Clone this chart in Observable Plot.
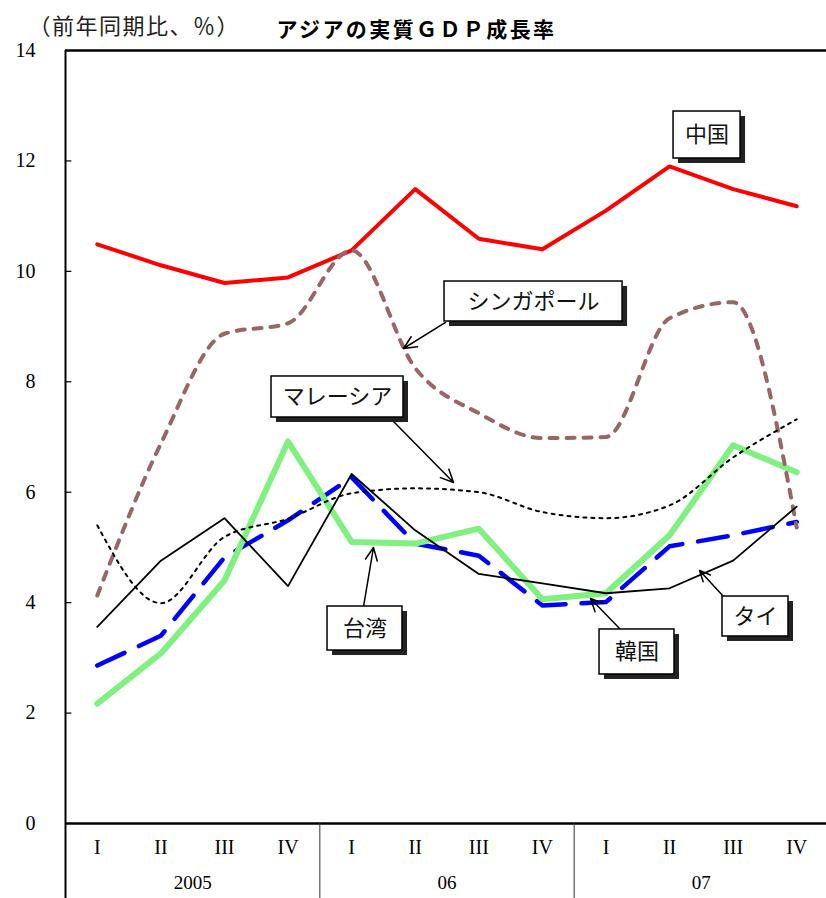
<!DOCTYPE html>
<html>
<head>
<meta charset="utf-8">
<script src="https://cdn.jsdelivr.net/npm/d3@7"></script>
<script src="https://cdn.jsdelivr.net/npm/@observablehq/plot@0.6"></script>
<style>
  body { margin: 0; background: white; }
  #chart { width: 826px; height: 898px; }
  #chart svg g[aria-label="y-axis tick label"] text { font-family: "Liberation Serif", "Times New Roman", "DejaVu Serif", serif; }
</style>
</head>
<body>
<div id="chart"></div>
<script>
// ---- data ----
const quarters = ["I","II","III","IV","I","II","III","IV","I","II","III","IV"];
const years = ["2005", "06", "07"];
const yTicks = [0, 2, 4, 6, 8, 10, 12, 14];

const china     = [10.49, 10.11, 9.79, 9.89, 10.38, 11.49, 10.59, 10.40, 11.10, 11.90, 11.49, 11.18];
const singapore = [4.13, 6.88, 8.87, 9.06, 10.38, 8.25, 7.43, 6.98, 7.00, 9.15, 9.44, 5.36];
const malaysia  = [5.40, 3.99, 5.19, 5.52, 5.98, 6.07, 6.00, 5.64, 5.53, 5.76, 6.63, 7.32];
const thailand  = [3.56, 4.76, 5.53, 4.30, 6.33, 5.31, 4.52, 4.35, 4.17, 4.26, 4.76, 5.74];
const korea     = [2.86, 3.40, 4.82, 5.49, 6.27, 5.07, 4.85, 3.95, 4.01, 5.02, 5.22, 5.46];
const taiwan    = [2.17, 3.08, 4.40, 6.92, 5.10, 5.07, 5.34, 4.06, 4.17, 5.22, 6.85, 6.36];

// annotation boxes & arrows (in data units: quarter index, percent)
const labels = ["中国", "シンガポール", "マレーシア", "台湾", "韓国", "タイ"];
const boxX1 = [9.563, 5.961, 3.240, 4.121, 8.399, 10.333];
const boxX2 = [10.617, 8.761, 5.316, 5.300, 9.578, 11.371];
const boxYTop = [12.895, 9.816, 8.096, 3.930, 3.514, 4.111];
const boxYBot = [12.044, 9.092, 7.353, 3.133, 2.699, 3.387];
const arrowFromX = [null, 5.977, 5.159, 4.687, 8.729, 10.349];
const arrowFromY = [null, 9.074, 7.281, 3.930, 3.514, 4.111];
const arrowToX   = [null, 5.316, 6.103, 4.844, 8.257, 9.972];
const arrowToY   = [null, 8.603, 6.176, 4.999, 4.075, 4.582];

// ---- build tables ----
const series = (vals) => vals.map((v, i) => ({ x: i + 0.5, v }));
const qRows = quarters.map((q, i) => ({ x: i + 0.5, q }));
const yRows = years.map((y, i) => ({ x: i * 4 + 2, y }));
const ann = labels.map((t, i) => ({
  t, x1: boxX1[i], x2: boxX2[i], y1: boxYBot[i], y2: boxYTop[i],
  ax1: arrowFromX[i], ay1: arrowFromY[i], ax2: arrowToX[i], ay2: arrowToY[i]
}));
const arrows = ann.filter(d => d.ax1 != null);

const serif = "Liberation Serif";
const jp = "Noto Sans CJK JP";
const subtitle = "（前年同期比、％）";
const title = "アジアの実質ＧＤＰ成長率";

const chart = Plot.plot({
  width: 826,
  height: 898,
  marginLeft: 65,
  marginRight: 0,
  marginTop: 50,
  marginBottom: 75,
  style: { fontFamily: serif, background: "white", color: "black" },
  x: { type: "linear", domain: [0, 12], range: [65, 828], axis: null },
  y: { domain: [0, 14], range: [823, 50], axis: null },
  marks: [
    // titles
    Plot.text([subtitle], { frameAnchor: "top-left", dx: -37, dy: -32, fontSize: 22, fontFamily: jp, textAnchor: "start", fill: "#222" }),
    Plot.text([title], { frameAnchor: "top-left", dx: 211, dy: -28, fontSize: 21, fontWeight: "bold", fontFamily: jp, textAnchor: "start", fill: "black" }),
    // y axis labels
    Plot.axisY(yTicks, { tickSize: 0, tickPadding: 30, fontSize: 20, fontFamily: serif, tickFormat: d => String(d) }),
    Plot.ruleY(yTicks.filter(d => d > 0 && d < 14), { x1: 0, x2: 0.1, stroke: "black", strokeWidth: 1.2 }),
    // frame lines
    Plot.ruleY([14], { stroke: "black", strokeWidth: 2.5 }),
    Plot.ruleY([0], { stroke: "black", strokeWidth: 2.5 }),
    Plot.ruleX([0], { stroke: "black", strokeWidth: 2, insetBottom: -75 }),
    Plot.ruleX([4, 8], { stroke: "#333", strokeWidth: 1, insetTop: 773, insetBottom: -75 }),
    // x labels
    Plot.text(qRows, { x: "x", text: "q", frameAnchor: "bottom", dy: 30, fontSize: 20, fontFamily: serif }),
    Plot.text(yRows, { x: "x", text: "y", frameAnchor: "bottom", dy: 65, fontSize: 19, fontFamily: serif }),
    // series
    Plot.line(series(china), { x: "x", y: "v", stroke: "#ff0000", strokeWidth: 4 }),
    Plot.line(series(korea), { x: "x", y: "v", stroke: "#0000ff", strokeWidth: 4.5, strokeDasharray: "30,16" }),
    Plot.line(series(taiwan), { x: "x", y: "v", stroke: "#80f080", strokeWidth: 6 }),
    Plot.line(series(singapore), { x: "x", y: "v", stroke: "#996666", strokeWidth: 4, strokeDasharray: "8,9", curve: "monotone-x" }),
    Plot.line(series(malaysia), { x: "x", y: "v", stroke: "black", strokeWidth: 2, strokeDasharray: "3,5", curve: "monotone-x" }),
    Plot.line(series(thailand), { x: "x", y: "v", stroke: "black", strokeWidth: 1.8 }),
    // annotations
    Plot.arrow(arrows, { x1: "ax1", y1: "ay1", x2: "ax2", y2: "ay2", stroke: "black", strokeWidth: 1.5, headLength: 14, headAngle: 50 }),
    Plot.rect(ann, { x1: "x1", x2: "x2", y1: "y1", y2: "y2", fill: "#222", dx: 5, dy: 5 }),
    Plot.rect(ann, { x1: "x1", x2: "x2", y1: "y1", y2: "y2", fill: "white", stroke: "black", strokeWidth: 1.5 }),
    Plot.text(ann, { x: d => (d.x1 + d.x2) / 2, y: d => (d.y1 + d.y2) / 2, text: "t", fontSize: 22, fontFamily: jp, fill: "#111" })
  ]
});
// letter spacing for the titles
d3.select(chart).selectAll("text").filter(function () { return this.textContent === title; }).attr("letter-spacing", "2.4px");
d3.select(chart).selectAll("text").filter(function () { return this.textContent === subtitle; }).attr("letter-spacing", "1.5px");
document.getElementById("chart").appendChild(chart);
</script>
</body>
</html>
